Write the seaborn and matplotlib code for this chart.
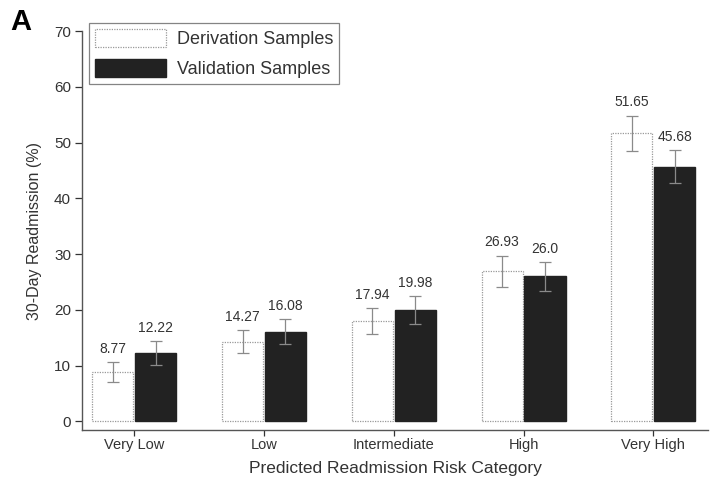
import matplotlib
matplotlib.use("Agg")
import matplotlib.pyplot as plt
import seaborn as sns
import pandas as pd
import numpy as np
from matplotlib.patches import Patch

categories = ["Very Low", "Low", "Intermediate", "High", "Very High"]
derivation = [8.77, 14.27, 17.94, 26.93, 51.65]
validation = [12.22, 16.08, 19.98, 26.0, 45.68]
deriv_err = [1.8, 2.1, 2.3, 2.8, 3.2]
valid_err = [2.2, 2.2, 2.5, 2.6, 3.0]
deriv_labels = ["8.77", "14.27", "17.94", "26.93", "51.65"]
valid_labels = ["12.22", "16.08", "19.98", "26.0", "45.68"]
series = ["Derivation Samples", "Validation Samples"]

sns.set_style("ticks")
plt.rcParams['font.family'] = ['Liberation Sans', 'DejaVu Sans']

df = pd.DataFrame({
    "cat": categories * 2,
    "val": derivation + validation,
    "series": [series[0]] * 5 + [series[1]] * 5,
})

fig = plt.figure(figsize=(7.15, 4.95), dpi=100)
ax = fig.add_axes([0.115, 0.131, 0.875, 0.806])

sns.barplot(data=df, x="cat", y="val", hue="series", order=categories,
            hue_order=series, palette=["white", "#222222"], width=0.66,
            gap=0.04, ax=ax, legend=False, errorbar=None, saturation=1)

patches = ax.patches
n = len(categories)
for i, p in enumerate(patches[:n]):
    p.set_edgecolor("#999999")
    p.set_linestyle((0, (1, 1)))
    p.set_linewidth(0.9)
for p in patches[n:2 * n]:
    p.set_edgecolor("#222222")

errs = deriv_err + valid_err
labels = deriv_labels + valid_labels
for p, e, lab in zip(patches[:2 * n], errs, labels):
    cx = p.get_x() + p.get_width() / 2
    h = p.get_height()
    ax.errorbar(cx, h, yerr=e, color="#8a8a8a", capsize=4, lw=0.9,
                capthick=0.9)
    ax.text(cx, h + e + 1.1, lab, ha="center", va="bottom", fontsize=10,
            color="#333333")

ax.set_ylim(-1.6, 70)
ax.set_xlim(-0.40, 4.42)
ax.set_yticks([0, 10, 20, 30, 40, 50, 60, 70])
ax.tick_params(axis="both", labelsize=11, colors="#333333", length=5,
               width=0.9, pad=3)
ax.tick_params(axis="x", labelsize=10.5, pad=2, length=4)
for lab in ax.get_xticklabels() + ax.get_yticklabels():
    lab.set_color("#333333")
sns.despine(ax=ax)
for s in ["left", "bottom"]:
    ax.spines[s].set_color("#555555")
    ax.spines[s].set_linewidth(1.0)
ax.set_xlabel("Predicted Readmission Risk Category", fontsize=12.5,
              color="#333333", labelpad=6)
ax.set_ylabel("30-Day Readmission (%)", fontsize=11.5, color="#333333",
              labelpad=9)

handles = [Patch(facecolor="white", edgecolor="#999999", linestyle=(0, (1, 1)),
                 linewidth=0.9, label=series[0]),
           Patch(facecolor="#222222", edgecolor="#222222", label=series[1])]
leg = ax.legend(handles=handles, loc="upper left", bbox_to_anchor=(0.005, 1.03),
                fontsize=13, frameon=True, fancybox=False, edgecolor="#666666",
                handlelength=3.9, handleheight=1.15, borderpad=0.35,
                labelspacing=0.6, handletextpad=0.6, borderaxespad=0.2)
leg.get_frame().set_linewidth(0.9)
for t in leg.get_texts():
    t.set_color("#333333")

fig.text(0.014, 0.955, "A", fontsize=21, fontweight="bold", color="black",
         va="center")

fig.savefig("out.png", dpi=100)
